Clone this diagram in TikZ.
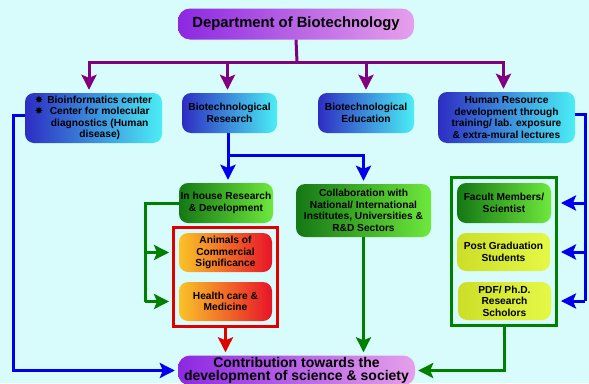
\documentclass[tikz,border=0pt]{standalone}
\usepackage{fontspec}
\setmainfont{Liberation Sans}
\newfontfamily\symfont{DejaVu Sans}
\usepackage{tikz}
\usetikzlibrary{positioning,arrows.meta,fit}

\definecolor{bgcyan}{RGB}{216,252,252}
\definecolor{linepurple}{RGB}{128,0,128}
\definecolor{lineblue}{RGB}{0,0,240}
\definecolor{linegreen}{RGB}{0,128,0}
\definecolor{linered}{RGB}{225,0,0}
\definecolor{bluedark}{RGB}{45,45,195}
\definecolor{bluemid}{RGB}{165,205,248}
\definecolor{bluelight}{RGB}{75,238,245}
\definecolor{greendark}{RGB}{20,120,20}
\definecolor{greenmid}{RGB}{150,225,120}
\definecolor{greenlight}{RGB}{110,232,60}
\definecolor{yellowdark}{RGB}{205,222,40}
\definecolor{yellowmid}{RGB}{245,255,150}
\definecolor{yellowlight}{RGB}{228,248,70}
\definecolor{pinkleft}{RGB}{250,195,40}
\definecolor{pinkmid}{RGB}{248,160,210}
\definecolor{pinkright}{RGB}{232,20,40}
\definecolor{violetdark}{RGB}{140,40,225}
\definecolor{violetmid}{RGB}{205,135,232}
\definecolor{violetlight}{RGB}{230,160,235}

\tikzset{
  unit/.style={rounded corners=9pt, align=center, inner sep=1pt,
    font=\fontsize{10.2}{11.5}\selectfont\bfseries},
  blueunit/.style={unit, left color=bluedark, middle color=bluemid, right color=bluelight},
  greenunit/.style={unit, left color=greendark, middle color=greenmid, right color=greenlight},
  yellowunit/.style={unit, left color=yellowdark, middle color=yellowmid, right color=yellowlight},
  pinkunit/.style={unit, left color=pinkleft, middle color=pinkmid, right color=pinkright},
  violetunit/.style={unit, rounded corners=12pt, left color=violetdark, middle color=violetmid, right color=violetlight},
  frame/.style={draw=#1, line width=2.5pt, inner sep=5.5pt},
  conn/.style={draw=#1, line width=3pt},
  tip/.style={conn=#1, -{Stealth[length=15pt, width=15pt, inset=3pt]}, shorten >=3pt}
}

\newcommand{\starbullet}{{\symfont\fontsize{10}{10}\selectfont ✸}}

\begin{document}
\begin{tikzpicture}[x=1pt, y=-1pt]
\fill[bgcyan] (0,0) rectangle (589,383);
\useasboundingbox (0,0) rectangle (589,383);

% Units
\node[violetunit, minimum width=236pt, minimum height=31pt, font=\fontsize{14.8}{16}\selectfont\bfseries] (dept) at (296,24) {Department of Biotechnology};

\node[blueunit, minimum width=137pt, minimum height=50pt] (bioinf) at (93.5,118) {%
  \begin{tabular}{@{}c@{\hspace{4pt}}c@{}}
  \starbullet & Bioinformatics center\\
  \starbullet & Center for molecular\\
              & diagnostics (Human\\
              & disease)
  \end{tabular}};
\node[blueunit, minimum width=95pt, minimum height=40pt] (research) at (229.5,113) {Biotechnological\\Research};
\node[blueunit, minimum width=96pt, minimum height=40pt] (educ) at (366,113) {Biotechnological\\Education};
\node[blueunit, minimum width=137pt, minimum height=51pt] (hrd) at (506.5,117.5) {Human Resource\\development through\\training/ lab. exposure\\\& extra-mural lectures};

\node[greenunit, minimum width=94pt, minimum height=40pt] (inhouse) at (226,203) {In house Research\\\& Development};
\node[greenunit, minimum width=135pt, minimum height=53pt] (collab) at (363.5,210.5) {Collaboration with\\National/ International\\Institutes, Universities \&\\R\&D Sectors};
\node[pinkunit, minimum width=93pt, minimum height=39pt] (animals) at (225.5,252.5) {Animals of\\Commercial\\Significance};
\node[pinkunit, minimum width=93pt, minimum height=39pt] (health) at (225.5,301.5) {Health care \&\\Medicine};

\node[greenunit, minimum width=94pt, minimum height=40pt] (faculty) at (504,203) {Facult Members/\\Scientist};
\node[yellowunit, minimum width=93pt, minimum height=38pt] (postgrad) at (503.5,252) {Post Graduation\\Students};
\node[yellowunit, minimum width=93pt, minimum height=38pt] (phd) at (504.5,301) {PDF/ Ph.D.\\Research\\Scholors};

% Frames
\node[frame=linered, fit=(animals)(health)] (redframe) {};
\node[frame=linegreen, fit=(faculty)(postgrad)(phd)] (staffframe) {};

\node[violetunit, minimum width=237pt, minimum height=30pt, font=\fontsize{14}{13.5}\selectfont\bfseries] (contrib) at (296.5,370.5) {Contribution towards the\\development of science \& society};

% Arrows
\coordinate (hub) at (297,62);
\draw[conn=linepurple] (dept.south) -- (hub);
\draw[tip=linepurple] (hub) -| ([xshift=-4.5pt]bioinf.north);
\draw[tip=linepurple] (hub) -| ([xshift=-2pt]research.north);
\draw[tip=linepurple] (hub) -| (educ.north);
\draw[tip=linepurple] (hub) -| ([xshift=-3pt]hrd.north);

\coordinate (leftrail) at (13,0);
\draw[tip=lineblue] ([yshift=3pt]bioinf.west) -| (leftrail |- contrib.west) -- (contrib.west);

\coordinate (rb) at (228,155);
\draw[tip=lineblue] (rb |- research.south) -- (rb) -| (collab.north);
\draw[tip=lineblue] (rb) -- (rb |- inhouse.north);

\coordinate (rightrail) at (585,0);
\draw[conn=lineblue] ([yshift=3pt]hrd.east) -| (rightrail |- phd);
\draw[tip=lineblue] (rightrail |- faculty) -- (staffframe.east |- faculty);
\draw[tip=lineblue] (rightrail |- postgrad) -- (staffframe.east |- postgrad);
\draw[tip=lineblue] (rightrail |- phd) -- (staffframe.east |- phd);

\coordinate (gl) at (145,0);
\draw[conn=linegreen] (inhouse.west) -| (gl |- health);
\draw[tip=linegreen] (gl |- animals) -- (redframe.west |- animals);
\draw[tip=linegreen] (gl |- health) -- (redframe.west |- health);

\draw[tip=linered] (redframe.south) -- (redframe.south |- contrib.north);
\draw[tip=linegreen] (collab.south) -- (collab.south |- contrib.north);
\draw[tip=linegreen] (staffframe.south) |- (contrib.east);

\end{tikzpicture}
\end{document}
